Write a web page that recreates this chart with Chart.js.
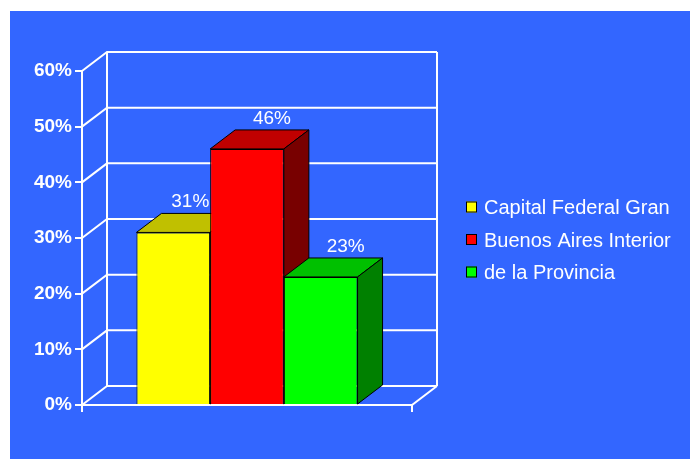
<!DOCTYPE html>
<html>
<head>
<meta charset="utf-8">
<script src="https://cdn.jsdelivr.net/npm/chart.js@4/dist/chart.umd.min.js"></script>
<style>
    html, body { margin: 0; padding: 0; background: #ffffff; }
    canvas { display: block; }
</style>
</head>
<body>
<canvas id="grafico" width="690" height="459"></canvas>
<script>
// Dados do gráfico
const categorias = ['Capital Federal Gran', 'Buenos Aires Interior', 'de la Provincia'];
const valores = [31, 46, 23];
const ticksY = [0, 10, 20, 30, 40, 50, 60];

// Cores (frente, topo, lateral)
const coresFrente = ['#ffff00', '#ff0000', '#00ff00'];
const coresTopo = ['#c0c000', '#c00000', '#00c000'];
const coresLado = ['#808000', '#780000', '#008000'];

const fonte = '"Liberation Sans", Arial, sans-serif';
const DX = 25, DY = 19;          // profundidade 3D
const deslocRotulo = [17, 25, 25]; // ajuste horizontal dos rótulos

const barras3d = {
    id: 'barras3d',
    beforeDraw(chart) {
        const ctx = chart.ctx;
        ctx.save();
        ctx.fillStyle = '#3366ff';
        ctx.fillRect(10, 11, chart.width - 10, chart.height - 11);
        ctx.restore();
    },
    beforeDatasetsDraw(chart) {
        const { ctx, chartArea: a, scales: { y } } = chart;
        const topo = y.getPixelForValue(ticksY[ticksY.length - 1]);
        ctx.save();
        ctx.strokeStyle = '#ffffff';
        ctx.lineWidth = 2;
        ctx.beginPath();
        ticksY.forEach(v => {
            const py = y.getPixelForValue(v);
            ctx.moveTo(a.left, py);
            ctx.lineTo(a.left + DX, py - DY);
            ctx.lineTo(a.right + DX, py - DY);
        });
        ctx.moveTo(a.left + DX, topo - DY);
        ctx.lineTo(a.left + DX, a.bottom - DY);
        ctx.moveTo(a.right + DX, topo - DY);
        ctx.lineTo(a.right + DX, a.bottom - DY);
        // chão
        ctx.moveTo(a.left, a.bottom);
        ctx.lineTo(a.right, a.bottom);
        ctx.lineTo(a.right + DX, a.bottom - DY);
        ctx.moveTo(a.left, a.bottom);
        ctx.lineTo(a.left, a.bottom + 7);
        ctx.moveTo(a.right, a.bottom);
        ctx.lineTo(a.right, a.bottom + 7);
        ctx.stroke();
        ctx.restore();
    },
    beforeDatasetDraw() {
        return false; // desenhamos as barras na ordem certa abaixo
    },
    afterDatasetsDraw(chart) {
        const ctx = chart.ctx;
        chart.data.datasets.forEach((ds, i) => {
            const meta = chart.getDatasetMeta(i);
            meta.controller.draw();
            meta.data.forEach(bar => {
                const { x, y, base, width } = bar.getProps(['x', 'y', 'base', 'width'], true);
                const esq = x - width / 2, dir = x + width / 2;
                ctx.save();
                ctx.strokeStyle = '#000000';
                ctx.lineWidth = 1;
                ctx.lineJoin = 'round';
                // topo
                ctx.beginPath();
                ctx.moveTo(esq, y);
                ctx.lineTo(esq + DX, y - DY);
                ctx.lineTo(dir + DX, y - DY);
                ctx.lineTo(dir, y);
                ctx.closePath();
                ctx.fillStyle = coresTopo[i];
                ctx.fill();
                ctx.stroke();
                // lateral
                ctx.beginPath();
                ctx.moveTo(dir, y);
                ctx.lineTo(dir + DX, y - DY);
                ctx.lineTo(dir + DX, base - DY);
                ctx.lineTo(dir, base);
                ctx.closePath();
                ctx.fillStyle = coresLado[i];
                ctx.fill();
                ctx.stroke();
                ctx.restore();
            });
        });
    },
    afterDraw(chart) {
        const { ctx, chartArea: a } = chart;
        ctx.save();
        // rótulos dos valores
        ctx.fillStyle = '#ffffff';
        ctx.font = '19px ' + fonte;
        ctx.textAlign = 'center';
        ctx.textBaseline = 'bottom';
        chart.data.datasets.forEach((ds, i) => {
            chart.getDatasetMeta(i).data.forEach((bar, j) => {
                ctx.fillText(ds.data[j] + '%', bar.x + deslocRotulo[i], bar.y - DY - 2);
            });
        });
        // legenda
        const meio = (a.top + a.bottom) / 2 + 2;
        ctx.font = '20px ' + fonte;
        ctx.textAlign = 'left';
        ctx.textBaseline = 'middle';
        categorias.forEach((nome, i) => {
            const cy = meio + (i - 1) * 32.5;
            const bx = a.right + 54;
            ctx.fillStyle = coresFrente[i];
            ctx.fillRect(bx, cy - 6, 11, 11);
            ctx.strokeStyle = '#000000';
            ctx.lineWidth = 1;
            ctx.strokeRect(bx + 0.5, cy - 5.5, 10, 10);
            ctx.fillStyle = '#ffffff';
            ctx.fillText(nome, bx + 18, cy + 1);
        });
        ctx.restore();
    }
};

const ctx = document.getElementById('grafico').getContext('2d');

new Chart(ctx, {
    type: 'bar',
    data: {
        labels: [''],
        datasets: categorias.map((nome, i) => ({
            label: nome,
            data: [valores[i]],
            backgroundColor: coresFrente[i],
            borderColor: '#000000',
            borderWidth: 1,
            categoryPercentage: 0.67,
            barPercentage: 1
        }))
    },
    options: {
        responsive: false,
        animation: false,
        layout: {
            padding: { left: 10, top: 71, right: 278, bottom: 54 }
        },
        plugins: {
            legend: { display: false },
            tooltip: { enabled: false }
        },
        scales: {
            x: { display: false },
            y: {
                min: 0,
                max: 60,
                afterFit: scale => { scale.width = 72; },
                ticks: {
                    stepSize: 10,
                    color: '#ffffff',
                    padding: 3,
                    font: { family: fonte, size: 19, weight: 'bold' },
                    callback: v => v + '%'
                },
                grid: {
                    drawOnChartArea: false,
                    color: '#ffffff',
                    lineWidth: 2,
                    tickLength: 7
                },
                border: { display: true, color: '#ffffff', width: 2 }
            }
        }
    },
    plugins: [barras3d]
});
</script>
</body>
</html>
